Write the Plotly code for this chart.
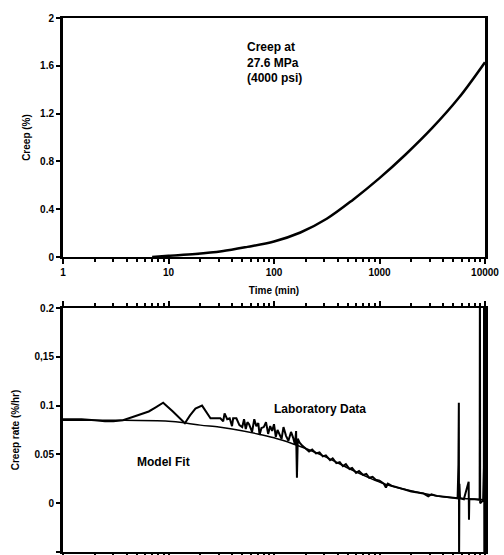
import plotly.graph_objects as go
from plotly.subplots import make_subplots

# ---- data ----
creep_t = [7, 10, 18, 32, 56, 100, 178, 316, 562, 1000, 1778, 3162, 5623, 10000]
creep_v = [0.0, 0.01, 0.025, 0.048, 0.085, 0.13, 0.205, 0.32, 0.48, 0.66, 0.86, 1.08, 1.33, 1.63]

model_t = [1, 3, 10, 15, 20, 30, 40, 70, 100, 150, 200, 300, 550, 800, 1100, 1600, 2350, 3500, 4900, 7000, 10000]
model_v = [0.085, 0.085, 0.084, 0.082, 0.080, 0.078, 0.076, 0.071, 0.067, 0.061, 0.056, 0.048, 0.034, 0.026, 0.020, 0.015, 0.011, 0.0075, 0.0055, 0.0045, 0.0035]

lab_t = [1.0, 1.5, 2.0, 2.5, 3.0, 3.7, 4.5, 5.5, 6.5, 7.5, 8.9, 11, 14.3, 16, 18, 20.8, 22.5, 25, 28, 31,
         33, 34, 36, 38, 40, 41, 44, 47, 50, 52, 54, 56, 58, 62, 65, 68, 71, 73, 76, 80,
         84, 88, 92, 96, 100, 104, 108, 113, 118, 123, 130, 137, 145, 152, 158, 162, 165, 168, 175, 185,
         200, 215, 230, 250, 270, 290, 310, 340, 360, 390, 420, 450, 480, 520, 550, 600, 640, 700, 750, 800,
         860, 920, 1000, 1100, 1150, 1200, 1300, 1400, 1550, 1700, 1850, 2000, 2300, 2600, 2900, 3100, 3500, 4000, 4500, 5000,
         5500, 5600, 5650, 5680, 5720, 5800, 6300, 7000, 7050, 7100, 8000, 8900, 8950, 9000, 9600, 9750, 9800, 9850, 9900, 10000]
lab_v = [0.086, 0.086, 0.085, 0.084, 0.084, 0.085, 0.088, 0.091, 0.094, 0.098, 0.103, 0.094, 0.082, 0.090, 0.097, 0.100, 0.094, 0.087, 0.087, 0.087,
         0.084, 0.092, 0.086, 0.087, 0.079, 0.087, 0.087, 0.080, 0.078, 0.086, 0.076, 0.083, 0.081, 0.073, 0.086, 0.079, 0.082, 0.070, 0.077, 0.078,
         0.083, 0.071, 0.079, 0.074, 0.081, 0.068, 0.075, 0.071, 0.066, 0.078, 0.069, 0.064, 0.073, 0.067, 0.060, 0.074, 0.026, 0.066, 0.062, 0.059,
         0.056, 0.053, 0.055, 0.051, 0.052, 0.048, 0.049, 0.044, 0.046, 0.041, 0.042, 0.038, 0.040, 0.035, 0.036, 0.031, 0.033, 0.029, 0.030, 0.026,
         0.027, 0.024, 0.023, 0.020, 0.016, 0.020, 0.018, 0.017, 0.015, 0.014, 0.013, 0.012, 0.011, 0.010, 0.007, 0.009, 0.0075, 0.007, 0.006, 0.0055,
         0.005, 0.040, 0.103, -0.06, 0.020, 0.005, 0.004, 0.022, -0.017, 0.004, 0.004, 0.0035, 0.25, 0.0, 0.003, 0.037, 0.25, -0.06, 0.003, 0.003]

x_tickvals = [1, 10, 100, 1000, 10000]
x_ticktext = ["1", "10", "100", "1000", "10000"]
minor_vals = [m * d for d in [1, 10, 100, 1000] for m in range(2, 10)]

y1_tickvals = [0, 0.4, 0.8, 1.2, 1.6, 2]
y1_ticktext = ["0", "0.4", "0.8", "1.2", "1.6", "2"]
y2_tickvals = [-0.05, 0, 0.05, 0.1, 0.15, 0.2]
y2_ticktext = ["-0.05", "0", "0.05", "0.1", "0,15", "0.2"]

FONT = "Liberation Sans"
tickfont = dict(family=FONT, size=10, color="black", weight="bold")

fig = make_subplots(rows=2, cols=1)

fig.add_trace(go.Scatter(x=creep_t, y=creep_v, mode="lines", line=dict(color="black", width=2.5, shape="spline"),
                         showlegend=False), row=1, col=1)
fig.add_trace(go.Scatter(x=model_t, y=model_v, mode="lines", line=dict(color="black", width=1.5, shape="spline"),
                         showlegend=False), row=2, col=1)
fig.add_trace(go.Scatter(x=lab_t, y=lab_v, mode="lines", line=dict(color="black", width=2),
                         showlegend=False), row=2, col=1)

xcommon = dict(type="log", range=[0, 4], showgrid=False, zeroline=False, showline=True, linecolor="black",
               linewidth=2, tickvals=x_tickvals, ticktext=x_ticktext, ticks="outside", ticklen=5,
               tickwidth=1.5, tickcolor="black", tickfont=tickfont, automargin=False,
               minor=dict(tickvals=minor_vals, ticks="outside", ticklen=3, tickcolor="black", tickwidth=1.5))

fig.update_xaxes(**xcommon, mirror=True, row=1, col=1,
                 title=dict(text="Time (min)", font=dict(family=FONT, size=10, color="black", weight="bold"), standoff=10))
fig.update_xaxes(**xcommon, mirror="ticks", showticklabels=False, row=2, col=1)

ycommon = dict(showgrid=False, zeroline=False, showline=True, linecolor="black", linewidth=3, automargin=False,
               ticks="outside", ticklen=4, tickwidth=1.5, tickcolor="black", tickfont=tickfont, mirror=True)
fig.update_yaxes(**ycommon, range=[0, 2], tickvals=y1_tickvals, ticktext=y1_ticktext, row=1, col=1,
                 domain=[0.5524, 1.0],
                 title=dict(text="Creep (%)", font=dict(family=FONT, size=10, color="black", weight="bold"), standoff=8))
fig.update_yaxes(**ycommon, range=[-0.05, 0.2], tickvals=y2_tickvals, ticktext=y2_ticktext, row=2, col=1,
                 domain=[0.0, 0.4569],
                 title=dict(text="Creep rate (%/hr)", font=dict(family=FONT, size=10, color="black", weight="bold"), standoff=14))

fig.add_annotation(x=0.431, y=0.962, xref="paper", yref="paper", xanchor="left", yanchor="top", align="left",
                   text="Creep at<br>27.6 MPa<br>(4000 psi)", showarrow=False,
                   font=dict(family=FONT, size=12, color="black", weight="bold"))
fig.add_annotation(x=0.948, y=0.0426, xref="x2", yref="y2", text="Model Fit", showarrow=False,
                   font=dict(family=FONT, size=12, color="black", weight="bold"))
fig.add_annotation(x=2.436, y=0.097, xref="x2", yref="y2", text="Laboratory Data", showarrow=False,
                   font=dict(family=FONT, size=12, color="black", weight="bold"))

fig.update_layout(width=504, height=555, margin=dict(l=63, r=19, t=18, b=3),
                  plot_bgcolor="white", paper_bgcolor="white")

fig.write_html("out.html")
